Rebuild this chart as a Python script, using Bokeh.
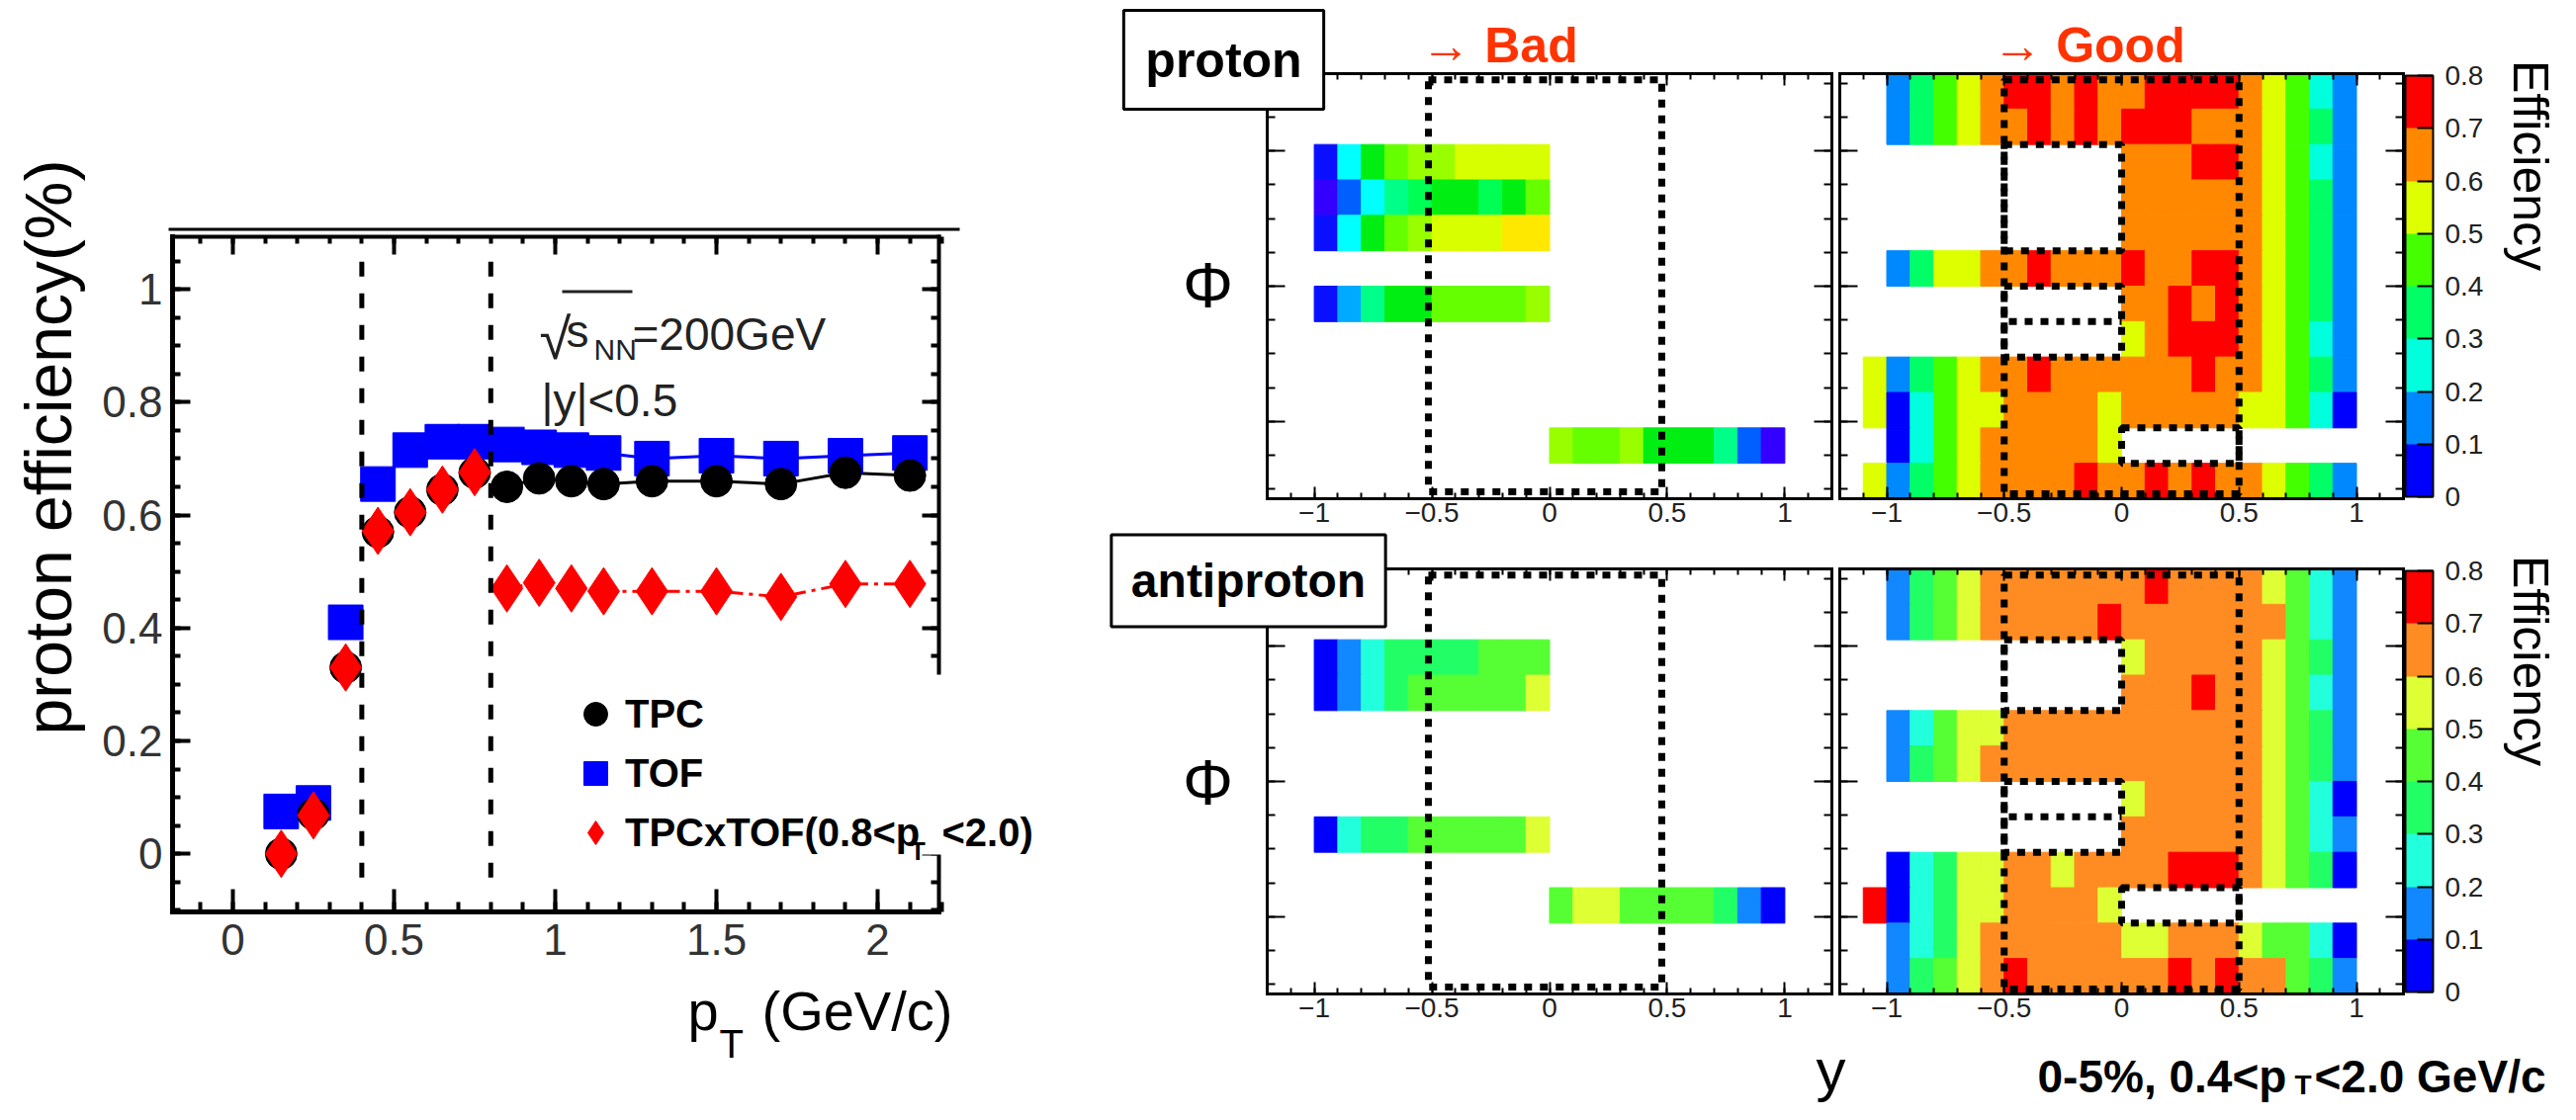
import numpy as np
from bokeh.plotting import figure
from bokeh.models import (ColumnDataSource, Range1d, LinearAxis, FixedTicker, Label, Legend,
                          LegendItem, ColorBar, LinearColorMapper, BoxAnnotation)
from bokeh.transform import linear_cmap
from bokeh.embed import file_html
from bokeh.resources import INLINE

FONT = "Liberation Sans"
PI = float(np.pi)
N = None

# ---------------- efficiency vs pT ----------------
pt = [0.15, 0.25, 0.35, 0.45, 0.55, 0.65, 0.75, 0.85, 0.95, 1.05, 1.15, 1.3, 1.5, 1.7, 1.9, 2.1]
eff_tpc = [0.0, 0.07, 0.33, 0.57, 0.605, 0.645, 0.675, 0.65, 0.665, 0.66, 0.655, 0.66, 0.66, 0.655, 0.675, 0.67]
eff_tof = [0.075, 0.09, 0.41, 0.655, 0.715, 0.73, 0.73, 0.725, 0.72, 0.715, 0.71, 0.70, 0.705, 0.70, 0.705, 0.71]
eff_tpcxtof = [0.0, 0.068, 0.33, 0.572, 0.605, 0.645, 0.676, 0.47, 0.48, 0.47, 0.465, 0.465, 0.465, 0.455, 0.478, 0.478]
pt_cuts = [0.4, 0.8]
pt_ticks = [0, 0.5, 1, 1.5, 2]
pt_tick_labels = ["0", "0.5", "1", "1.5", "2"]
eff_ticks = [0, 0.2, 0.4, 0.6, 0.8, 1.0]
eff_tick_labels = ["0", "0.2", "0.4", "0.6", "0.8", "1"]

# ---------------- efficiency maps (rows: phi bins from +pi down to -pi; cols: y bins from -1.1) ----------------
y_bin_low = [round(-1.1 + 0.1 * c, 2) for c in range(21)]
phi_bin_high = [PI - i * PI / 6 for i in range(12)]
rap_ticks = [-1, -0.5, 0, 0.5, 1]
rap_tick_labels = ["\u22121", "\u22120.5", "0", "0.5", "1"]
phi_ticks = [-2, 0, 2]
cbar_ticks = [0, 0.1, 0.2, 0.3, 0.4, 0.5, 0.6, 0.7, 0.8]
cbar_labels = ["0", "0.1", "0.2", "0.3", "0.4", "0.5", "0.6", "0.7", "0.8"]

E10 = [N] * 10
E11 = [N] * 11
E21 = [N] * 21

proton_bad = [
    E21, E21,
    [N, .07, .22, .37, .42, .47, .47, .52, .52, .52, .52] + E10,
    [N, .02, .12, .22, .27, .32, .37, .37, .32, .37, .42] + E10,
    [N, .07, .22, .37, .42, .47, .52, .52, .52, .57, .57] + E10,
    E21,
    [N, .07, .17, .27, .37, .37, .42, .42, .42, .42, .47] + E10,
    E21, E21, E21,
    E11 + [.47, .42, .42, .47, .37, .37, .37, .27, .12, .02],
    E21,
]

proton_good = [
    [N, .15, .35, .45, .55, .65, .75, .75, .65, .75, .65, .65, .75, .75, .75, .75, .65, .55, .45, .25, .15],
    [N, .15, .35, .45, .55, .65, .65, .75, .65, .75, .65, .75, .75, .75, .65, .65, .65, .55, .45, .35, .15],
    E11 + [.65, .65, .65, .75, .75, .65, .55, .45, .25, .15],
    E11 + [.65, .65, .65, .65, .65, .65, .55, .45, .35, .15],
    E11 + [.65, .65, .65, .65, .65, .65, .55, .45, .35, .15],
    [N, .15, .35, .55, .55, .65, .65, .75, .65, .65, .65, .75, .65, .65, .75, .75, .65, .55, .45, .35, .15],
    E11 + [.65, .65, .75, .65, .75, .65, .55, .45, .35, .15],
    E11 + [.55, .65, .75, .75, .75, .65, .55, .45, .25, .15],
    [.55, .15, .35, .45, .55, .65, .65, .75, .65, .65, .65, .65, .65, .65, .75, .65, .65, .55, .45, .35, .15],
    [.55, .05, .25, .45, .55, .55, .65, .65, .65, .65, .55, .65, .65, .65, .65, .65, .55, .55, .45, .25, .05],
    [N, .05, .25, .45, .55, .65, .65, .65, .65, .65, .55] + E10,
    [.55, .15, .35, .45, .55, .65, .65, .65, .65, .75, .65, .65, .75, .65, .75, .65, .65, .55, .45, .35, .15],
]

antiproton_bad = [
    E21, E21,
    [N, .05, .15, .25, .35, .35, .35, .35, .45, .45, .45] + E10,
    [N, .05, .15, .25, .35, .45, .45, .45, .45, .45, .55] + E10,
    E21, E21, E21,
    [N, .05, .25, .35, .35, .45, .45, .45, .45, .45, .55] + E10,
    E21,
    E11 + [.45, .55, .55, .45, .45, .45, .45, .35, .15, .05],
    E21, E21,
]

antiproton_good = [
    [N, .15, .35, .45, .55, .65, .65, .65, .65, .65, .65, .65, .75, .65, .65, .65, .65, .55, .45, .25, .15],
    [N, .15, .35, .45, .55, .65, .65, .65, .65, .65, .75, .65, .65, .65, .65, .65, .65, .65, .45, .25, .15],
    E11 + [.55, .65, .65, .65, .65, .65, .55, .45, .35, .15],
    E11 + [.65, .65, .65, .75, .65, .65, .55, .45, .25, .15],
    [N, .15, .25, .45, .55, .55, .65, .65, .65, .65, .65, .65, .65, .65, .65, .65, .65, .55, .45, .35, .15],
    [N, .15, .35, .45, .55, .65, .65, .65, .65, .65, .65, .65, .65, .65, .65, .65, .65, .55, .45, .35, .15],
    E11 + [.55, .65, .65, .65, .65, .65, .55, .45, .25, .05],
    E11 + [.65, .65, .65, .65, .65, .65, .55, .45, .25, .15],
    [N, .05, .25, .35, .55, .55, .65, .65, .55, .65, .65, .65, .65, .75, .75, .75, .65, .55, .45, .35, .05],
    [.75, .05, .25, .35, .55, .55, .65, .65, .65, .65, .55] + E10,
    [N, .15, .25, .35, .55, .65, .65, .65, .65, .65, .65, .55, .55, .65, .65, .65, .55, .45, .45, .25, .05],
    [N, .15, .35, .45, .55, .65, .75, .65, .65, .65, .65, .65, .65, .75, .65, .75, .65, .65, .45, .35, .15],
]

# selection windows (dotted boxes)
bad_box = dict(left=[-0.515], right=[0.477], bottom=[-3.04], top=[3.05])
proton_good_boxes = dict(left=[-0.5, -0.5, -0.5, 0.0], right=[0.5, 0.0, 0.0, 0.5],
                         bottom=[-3.07, PI / 6, -PI / 3, -5 * PI / 6], top=[3.05, 2 * PI / 3, 0.0, -2 * PI / 3])
antiproton_good_boxes = dict(left=[-0.5, -0.5, -0.5, 0.0], right=[0.5, 0.0, 0.0, 0.5],
                             bottom=[-3.07, PI / 3, -PI / 3, -2 * PI / 3], top=[3.05, 2 * PI / 3, 0.0, -PI / 2])
good_midline = dict(x0=[-0.48], x1=[0.0], y=[-PI / 6])

pal_fine = ["#3300ff", "#0a10ff", "#0060ff", "#00aaff", "#00ffff", "#00ff88", "#00ff55", "#00ee11",
            "#66ff00", "#99ff00", "#d8ff00", "#ffe800", "#ffbb00", "#ff8800", "#ff4400", "#ff0000"]
pal_top = ["#0000ff", "#0088ff", "#00ffdd", "#00ff66", "#44ff00", "#ddff00", "#ff8800", "#ff0000"]
pal_bot = ["#0000ff", "#1188ff", "#22ffdd", "#22ff66", "#55ff33", "#ddff33", "#ff8c22", "#ff0000"]

# ---------------- one canvas, page pixel coordinates as the default ranges ----------------
CX0, CX1, CY0, CY1 = 8, 2597, 8, 1125


def rng(d0, d1, p0, p1, P0, P1):
    k = (d1 - d0) / (p1 - p0)
    return Range1d(start=d0 + (P0 - p0) * k, end=d1 + (P1 - p1) * k)


p = figure(width=CX1 - CX0, height=CY1 - CY0, x_range=Range1d(CX0, CX1), y_range=Range1d(CY1, CY0),
           x_axis_type=None, y_axis_type=None, output_backend="svg", toolbar_location=None,
           min_border=0, min_border_left=0, min_border_right=0, min_border_top=0, min_border_bottom=0)
p.outline_line_color = None
p.background_fill_color = "white"
p.border_fill_color = "white"

# panel frames (page pixels)
LF = dict(l=182, r=957, t=247, b=930)
H1 = dict(l=1289, r=1860)
H2 = dict(l=1868, r=2438)
HT = dict(t=82, b=512)
HB = dict(t=583, b=1013)

p.extra_x_ranges = {"L": rng(-0.187, 2.19, LF["l"], LF["r"], CX0, CX1),
                    "H1": rng(-1.2, 1.2, H1["l"], H1["r"], CX0, CX1),
                    "H2": rng(-1.2, 1.2, H2["l"], H2["r"], CX0, CX1)}
p.extra_y_ranges = {"L": rng(-0.103, 1.093, LF["b"], LF["t"], CY1, CY0),
                    "HT": rng(-PI, PI, HT["b"], HT["t"], CY1, CY0),
                    "HB": rng(-PI, PI, HB["b"], HB["t"], CY1, CY0)}


def axis(side, xr, yr, loc, bounds, ticker, width, maj, mnr, tick_w, labels=None, size=28,
         standoff=3, color="#222222"):
    ax = LinearAxis(x_range_name=xr, y_range_name=yr, fixed_location=loc, bounds=bounds, ticker=ticker)
    ax.axis_line_width = width
    ax.axis_line_color = "black"
    ax.axis_line_cap = "square"
    ax.major_tick_in = maj
    ax.major_tick_out = 0
    ax.minor_tick_in = mnr
    ax.minor_tick_out = 0
    ax.major_tick_line_width = tick_w
    ax.minor_tick_line_width = tick_w
    ax.major_tick_line_color = "black"
    ax.minor_tick_line_color = "black"
    if labels is None:
        ax.major_label_text_color = None
        ax.major_label_standoff = 0
    else:
        ax.major_label_overrides = labels
        ax.major_label_standoff = standoff
        ax.major_label_text_font = FONT
        ax.major_label_text_color = color
        ax.major_label_text_font_size = f"{size}px"
    p.add_layout(ax, side)
    return ax


def label(px, py, text, size, bold=False, color="black", align="left", baseline="alphabetic",
          angle=0.0, **kw):
    p.add_layout(Label(x=px, y=py, text=text, text_font=FONT, text_font_size=f"{size}px",
                       text_font_style="bold" if bold else "normal", text_color=color,
                       text_align=align, text_baseline=baseline, angle=angle, **kw))


# ================= left: efficiency vs pT =================
LXR, LYR = (-0.187, 2.19), (-0.103, 1.093)
xt = FixedTicker(ticks=pt_ticks, minor_ticks=[round(-0.1 + 0.1 * k, 2) for k in range(24)])
yt = FixedTicker(ticks=eff_ticks, minor_ticks=[round(-0.1 + 0.05 * k, 2) for k in range(24)])
axis("below", "L", "L", LYR[0], LXR, xt, 5, 23, 10, 4, labels=dict(zip(pt_ticks, pt_tick_labels)),
     size=44, standoff=12, color="#333333")
axis("left", "L", "L", LXR[0], LYR, yt, 5, 18, 8, 4, labels=dict(zip(eff_ticks, eff_tick_labels)),
     size=44, standoff=10, color="#333333")
axis("above", "L", "L", LYR[1], LXR, xt, 4, 18, 7, 4)
axis("right", "L", "L", LXR[1], LYR, yt, 4, 17, 8, 4)
# thin rule above the frame (as in the original figure)
p.add_layout(BoxAnnotation(left=178, right=978, top=238, bottom=241,
                           fill_color="black", fill_alpha=1.0, line_color=None))
# the legend box hides this part of the right frame edge
p.add_layout(BoxAnnotation(left=935, right=966, top=690, bottom=872,
                           fill_color="white", fill_alpha=1.0, line_color=None))

kwL = dict(x_range_name="L", y_range_name="L")
hi = slice(7, None)
p.line(pt[hi], eff_tof[hi], line_color="#0000ff", line_width=3, **kwL)
p.line(pt[hi], eff_tpc[hi], line_color="black", line_width=3, **kwL)
p.line(pt[hi], eff_tpcxtof[hi], line_color="#ff0000", line_width=3, line_dash="16 6 4 6", **kwL)
r_tof = p.scatter(pt, eff_tof, marker="square", size=35, fill_color="#0000ff", line_color="#0000ff", **kwL)
r_tpc = p.scatter(pt, eff_tpc, marker="circle", size=32, fill_color="black", line_color="black", **kwL)
r_x = p.scatter(pt, eff_tpcxtof, marker="diamond", size=48, fill_color="#ff0000", line_color="#ff0000", **kwL)
p.segment(x0=pt_cuts, y0=[-0.042] * 2, x1=pt_cuts, y1=[1.049] * 2, line_color="black",
          line_width=5, line_dash="15 17", **kwL)

legend = Legend(items=[LegendItem(label="TPC", renderers=[r_tpc]),
                       LegendItem(label="TOF", renderers=[r_tof]),
                       LegendItem(label="TPCxTOF(0.8<p\u00a0\u00a0<2.0)", renderers=[r_x])],
                location=(580 - CX0, CY1 - 880), orientation="vertical", glyph_width=60, glyph_height=60,
                label_standoff=0, spacing=0, padding=10, margin=0, label_text_font=FONT,
                label_text_font_style="bold", label_text_font_size="40px", label_text_color="black",
                border_line_color=None, background_fill_color="white", background_fill_alpha=0.0)
p.add_layout(legend)
label(928, 868, "T", 25, bold=True)

label(553, 350, "\u221a", 58, color="#222222")
label(580, 342, "s", 46, color="#222222")
label(608, 361, "NN", 30, color="#222222")
label(647, 345, "=200GeV", 46, color="#222222")
p.add_layout(BoxAnnotation(left=576, right=647, top=301, bottom=304,
                           fill_color="#222222", fill_alpha=1.0, line_color=None))
label(555, 412, "|y|<0.5", 46, color="#222222")

label(703, 1030, "p", 56)
label(735, 1063, "T", 40)
label(778, 1030, "(GeV/c)", 56)
label(56, 460, "proton efficiency(%)", 66, align="center", baseline="middle", angle=PI / 2)


# ================= heat maps =================
def heat(xr, yr, values, palette, boxes, midline):
    xs, ys, vs = [], [], []
    for i, rvals in enumerate(values):
        for c, v in enumerate(rvals):
            if v is None:
                continue
            xs.append(y_bin_low[c] + 0.05)
            ys.append(phi_bin_high[i] - PI / 12)
            vs.append(v)
    src = ColumnDataSource(dict(x=xs, y=ys, v=vs))
    cm = linear_cmap("v", palette, 0, 0.8)
    kw = dict(x_range_name=xr, y_range_name=yr)
    p.rect("x", "y", width=0.1, height=PI / 6, source=src, fill_color=cm, line_color=cm, line_width=1, **kw)
    p.quad(left=boxes["left"], right=boxes["right"], bottom=boxes["bottom"], top=boxes["top"],
           fill_color=None, line_color="black", line_width=7, line_dash="8 8", **kw)
    if midline is not None:
        p.segment(x0=midline["x0"], x1=midline["x1"], y0=midline["y"], y1=midline["y"],
                  line_color="black", line_width=7, line_dash="8 8", **kw)
    hxt = FixedTicker(ticks=rap_ticks, minor_ticks=[round(-1.2 + 0.1 * k, 2) for k in range(25)])
    hyt = FixedTicker(ticks=phi_ticks, minor_ticks=[-3 + 0.5 * k for k in range(13)])
    axis("below", xr, yr, -PI, (-1.2, 1.2), hxt, 3, 12, 6, 2,
         labels=dict(zip(rap_ticks, rap_tick_labels)), size=28, standoff=4)
    axis("left", xr, yr, -1.2, (-PI, PI), hyt, 3, 18, 8, 2)
    axis("above", xr, yr, PI, (-1.2, 1.2), hxt, 3, 12, 6, 2)
    axis("right", xr, yr, 1.2, (-PI, PI), hyt, 3, 18, 8, 2)


def cbar(palette, bar_bottom):
    cb = ColorBar(color_mapper=LinearColorMapper(palette=palette, low=0, high=0.8),
                  ticker=FixedTicker(ticks=cbar_ticks),
                  major_label_overrides=dict(zip(cbar_ticks, cbar_labels)),
                  location=(2440 - CX0, CY1 - bar_bottom),
                  width=28, height=426, margin=0, padding=0, label_standoff=12,
                  major_label_text_font=FONT, major_label_text_font_size="28px",
                  major_label_text_color="#222222", major_tick_in=16, major_tick_out=0,
                  major_tick_line_color="black", major_tick_line_width=2, minor_tick_line_color=None,
                  bar_line_color="black", bar_line_width=2, border_line_color=None,
                  background_fill_color=None)
    p.add_layout(cb)


heat("H1", "HT", proton_bad, pal_fine, bad_box, None)
heat("H2", "HT", proton_good, pal_top, proton_good_boxes, good_midline)
heat("H1", "HB", antiproton_bad, pal_bot, bad_box, None)
heat("H2", "HB", antiproton_good, pal_bot, antiproton_good_boxes, good_midline)
cbar(pal_top, 510)
cbar(pal_bot, 1011)

RED = "#ff3300"
label(1524, 53, "\u2192 Bad", 50, bold=True, color=RED, align="center")
label(2120, 53, "\u2192 Good", 50, bold=True, color=RED, align="center")
label(1245, 68, "proton", 50, bold=True, align="center", baseline="middle", padding=22,
      border_line_color="black", border_line_width=3, background_fill_color="white",
      background_fill_alpha=1.0)
label(1270, 595, "antiproton", 48, bold=True, align="center", baseline="middle", padding=20,
      border_line_color="black", border_line_width=3, background_fill_color="white",
      background_fill_alpha=1.0)
label(1229, 296, "\u03a6", 64, align="center", baseline="middle")
label(1229, 799, "\u03a6", 64, align="center", baseline="middle")
label(2566, 175, "Efficiency", 50, align="center", baseline="middle", angle=-PI / 2)
label(2566, 676, "Efficiency", 50, align="center", baseline="middle", angle=-PI / 2)
label(1859, 1090, "y", 60, align="center")
label(2068, 1096, "0-5%, 0.4<p", 46, bold=True)
label(2328, 1105, "T", 28, bold=True)
label(2348, 1096, "<2.0 GeV/c", 46, bold=True)

open("out.html", "w").write(file_html(p, INLINE, title="efficiency"))
